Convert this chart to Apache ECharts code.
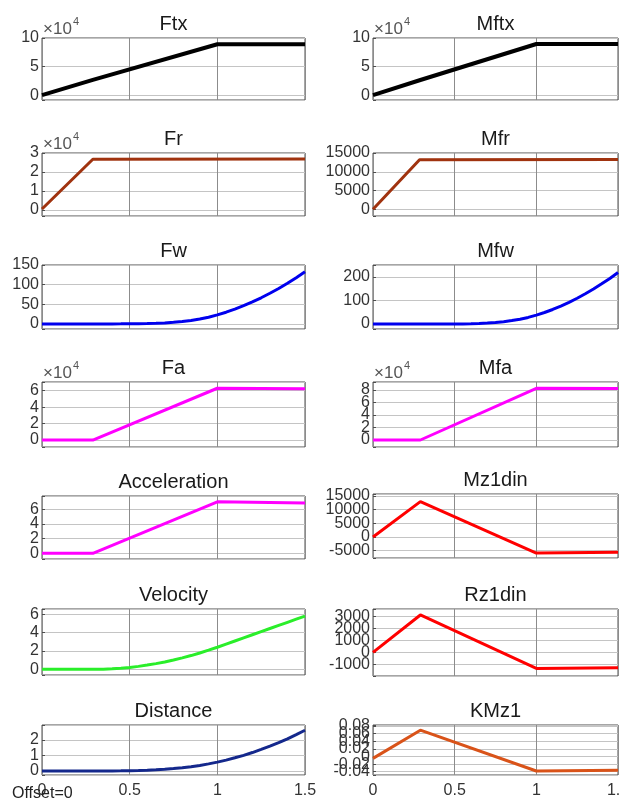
<!DOCTYPE html>
<html><head><meta charset="utf-8">
<script src="https://cdn.jsdelivr.net/npm/echarts@6/dist/echarts.min.js"></script>
<style>html,body{margin:0;padding:0;background:#fff}#c{width:619px;height:799px}</style>
</head><body><div id="c"></div>
<script>
// ---------- data ----------
const tCurve = [0,0.05,0.1,0.15,0.2,0.25,0.3,0.35,0.4,0.45,0.5,0.55,0.6,0.65,0.7,0.75,0.8,0.85,0.9,0.95,1.0,1.05,1.1,1.15,1.2,1.25,1.3,1.35,1.4,1.45,1.5];
const tCorner = [0,0.29,1.0,1.5];
const tRamp = [0,0.29,1.5];
const tRampM = [0,0.285,1.5];

const ftx  = [0,26700,89000,89200];
const mftx = [0,26500,89500,89300];
const fr   = [500,26700,26800];
const mfr  = [0,13200,13300];
const fw   = [0,0,0,0,0,0,0,0,0.01,0.06,0.17,0.41,0.83,1.5,2.5,4.0,6.1,8.9,12.5,17.1,22.9,29.8,37.6,46.3,56,66.5,78,90.3,103.6,117.8,132.8];
const mfw  = [0,0,0,0,0,0,0,0,0.02,0.1,0.28,0.68,1.37,2.5,4.1,6.6,10.1,14.7,20.6,28.2,37.8,49.2,62,76.4,92.4,109.7,128.7,149,171,194,219];
const fa   = [0,0,63000,62500];
const mfa  = [0,0,82700,82500];
const accel = [0,0,7.0,6.85];
const mz1din = [0,12900,-5900,-5600];
const velocity = [0,0,0,0,0,0,0,0.02,0.06,0.12,0.21,0.32,0.46,0.62,0.8,1.01,1.25,1.5,1.78,2.09,2.41,2.75,3.09,3.43,3.77,4.11,4.45,4.79,5.13,5.47,5.81];
const rz1din = [0,3150,-1340,-1290];
const distance = [0,0,0,0,0,0,0,0,0.002,0.007,0.015,0.028,0.048,0.075,0.11,0.155,0.21,0.28,0.36,0.46,0.57,0.70,0.85,1.01,1.19,1.39,1.60,1.83,2.08,2.35,2.63];
const kmz1 = [-0.005,0.069,-0.038,-0.036];

const xTicks = [0,0.5,1,1.5];
const titles = ['Ftx','Mftx','Fr','Mfr','Fw','Mfw','Fa','Mfa','Acceleration','Mz1din','Velocity','Rz1din','Distance','KMz1'];

// ---------- layout / styling ----------
const colLeft = [42, 373], colWidth = [263, 245];
const rowsL = [[38,100],[153,216],[265,329],[382,447],[496,559],[609,675],[725,775]];
const rowsR = [[38,100],[153,216],[265,329],[382,447],[494,558],[609,676],[725,775]];

const panels = [
  {xs:tCorner, ys:ftx,  color:'#000000', w:4, yMin:-8500, yMax:100000, step:50000, scale:1e4},
  {xs:tCorner, ys:mftx, color:'#000000', w:4, yMin:-8500, yMax:100000, step:50000, scale:1e4},
  {xs:tRamp,   ys:fr,   color:'#a0330f', w:3, yMin:-3200, yMax:30000, step:10000, scale:1e4},
  {xs:tRampM,  ys:mfr,  color:'#a0330f', w:3, yMin:-1800, yMax:15000, step:5000, scale:1},
  {xs:tCurve,  ys:fw,   color:'#0000ee', w:3, yMin:-13, yMax:150, step:50, scale:1},
  {xs:tCurve,  ys:mfw,  color:'#0000ee', w:3, yMin:-21, yMax:251, step:100, scale:1},
  {xs:tCorner, ys:fa,   color:'#ff00ff', w:3, yMin:-8500, yMax:70600, step:20000, scale:1e4},
  {xs:tCorner, ys:mfa,  color:'#ff00ff', w:3, yMin:-11200, yMax:92800, step:20000, scale:1e4},
  {xs:tCorner, ys:accel,color:'#ff00ff', w:3, yMin:-0.78, yMax:7.8, step:2, scale:1},
  {xs:tCorner, ys:mz1din,color:'#ff0000', w:3, yMin:-7700, yMax:15700, step:5000, scale:1},
  {xs:tCurve,  ys:velocity,color:'#2aee2a', w:3, yMin:-0.62, yMax:6.58, step:2, scale:1},
  {xs:tCorner, ys:rz1din,color:'#ff0000', w:3, yMin:-1980, yMax:3650, step:1000, scale:1},
  {xs:tCurve,  ys:distance,color:'#14288c', w:3, yMin:-0.26, yMax:2.97, step:1, scale:1},
  {xs:tCorner, ys:kmz1, color:'#d95319', w:3, yMin:-0.0486, yMax:0.0826, step:0.02, scale:1}
];
const hasExp = [true,true,true,false,false,false,true,true,false,false,false,false,false,false];

const FONT = '"Liberation Sans", Arial, sans-serif';
const grids = [], xAxes = [], yAxes = [], series = [], graphics = [];

panels.forEach((p, i) => {
  const col = i % 2, row = Math.floor(i / 2);
  const r = col === 0 ? rowsL[row] : rowsR[row];
  const left = colLeft[col], width = colWidth[col];
  grids.push({left, top:r[0], width, height:r[1]-r[0], show:true, borderColor:'#4d4d4d', borderWidth:1,
              containLabel:false, outerBoundsMode:'none'});
  const bottom = row === 6;
  xAxes.push({type:'value', gridIndex:i, min:0, max:1.5, interval:0.5,
    axisLine:{show:false, onZero:false}, axisTick:{show:false},
    splitLine:{show:true, lineStyle:{color:'#8c8c8c', width:1}},
    axisLabel:{show:bottom, fontSize:16, color:'#333', fontFamily:FONT, margin:8,
      formatter: v => xTicks.some(t => Math.abs(t - v) < 1e-9) ? String(v) : ''}});
  const step = p.step, sc = p.scale;
  yAxes.push({type:'value', gridIndex:i, min:p.yMin, max:p.yMax, minInterval:step, maxInterval:step, splitNumber:5,
    axisLine:{show:false, onZero:false}, axisTick:{show:true, inside:true, length:3, lineStyle:{color:'#4d4d4d'}},
    splitLine:{show:true, lineStyle:{color:'#c4c4c4', width:1}},
    axisLabel:{fontSize:16, color:'#333', fontFamily:FONT, margin:3,
      formatter: v => {
        const k = v / step;
        if (Math.abs(k - Math.round(k)) > 1e-6) return '';
        return String(Number((v / sc).toFixed(6)));
      }}});
  series.push({type:'line', xAxisIndex:i, yAxisIndex:i, showSymbol:false, symbol:'none',
    data: p.xs.map((x, j) => [x, p.ys[j]]), lineStyle:{color:p.color, width:p.w}, itemStyle:{color:p.color},
    animation:false, z:5});
  graphics.push({type:'text', x:left + width/2, y:r[0] - 14, style:{text:titles[i], font:'20px ' + FONT,
    fill:'#1a1a1a', align:'center', verticalAlign:'middle'}});
  if (hasExp[i]) {
    graphics.push({type:'text', x:left + 1, y:r[0] - 9, style:{text:'×10', font:'17px ' + FONT, fill:'#555',
      align:'left', verticalAlign:'middle'}});
    graphics.push({type:'text', x:left + 31, y:r[0] - 16, style:{text:'4', font:'11px ' + FONT, fill:'#555',
      align:'left', verticalAlign:'middle'}});
  }
});
graphics.push({type:'text', x:12, y:794, style:{text:'Offset=0', font:'16px ' + FONT, fill:'#222',
  align:'left', verticalAlign:'middle'}, z:10});

const chart = echarts.init(document.getElementById('c'), null, {renderer:'canvas'});
chart.setOption({animation:false, backgroundColor:'#fff', grid:grids, xAxis:xAxes, yAxis:yAxes, series, graphic:{elements:graphics}});
</script></body></html>
